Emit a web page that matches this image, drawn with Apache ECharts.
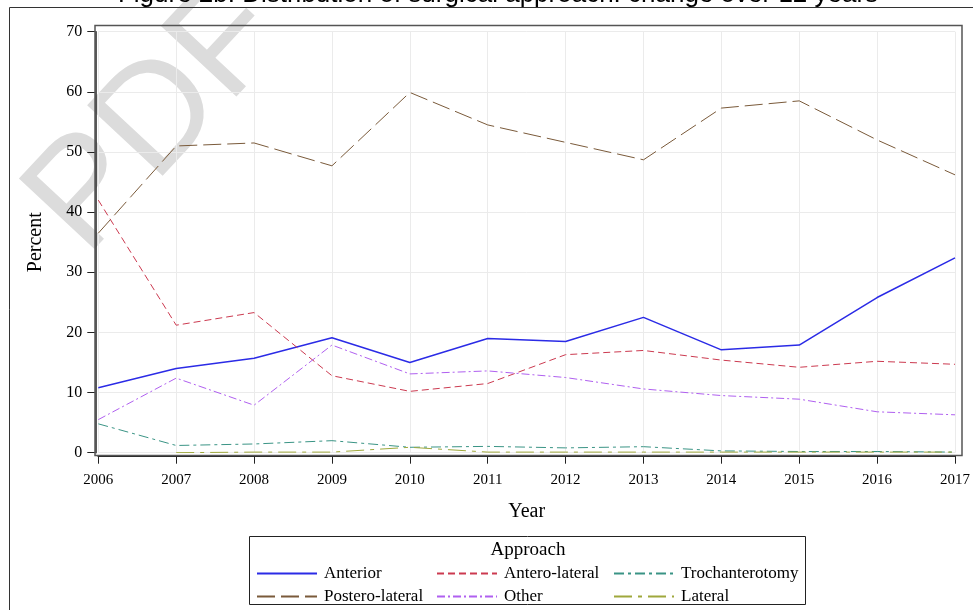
<!DOCTYPE html>
<html>
<head>
<meta charset="utf-8">
<script src="https://cdn.jsdelivr.net/npm/echarts@6/dist/echarts.min.js"></script>
<style>html,body{margin:0;padding:0;background:#fff}#c{width:973px;height:610px}</style>
</head>
<body>
<div id="c"></div>
<script>
const years = [2006, 2007, 2008, 2009, 2010, 2011, 2012, 2013, 2014, 2015, 2016, 2017];
const yTicks = [0, 10, 20, 30, 40, 50, 60, 70];
const anterior       = [10.8, 14.0, 15.7, 19.1, 15.0, 19.0, 18.5, 22.5, 17.1, 17.9, 25.8, 32.4];
const anteroLateral  = [42.0, 21.2, 23.3, 12.8, 10.2, 11.5, 16.3, 17.0, 15.4, 14.2, 15.2, 14.7];
const trochanterotomy= [4.8, 1.2, 1.45, 2.0, 0.9, 1.05, 0.8, 1.0, 0.3, 0.2, 0.2, 0.1];
const posteroLateral = [36.5, 51.0, 51.5, 47.7, 59.9, 54.5, 51.6, 48.7, 57.3, 58.5, 52.0, 46.2];
const other          = [5.5, 12.4, 7.9, 17.9, 13.1, 13.6, 12.5, 10.6, 9.5, 8.9, 6.8, 6.3];
const lateral        = [null, 0.0, 0.1, 0.1, 0.9, 0.1, 0.1, 0.1, 0.1, 0.1, 0.1, 0.1];

const seriesDefs = [
  {name: 'Anterior', data: anterior, color: '#2B2BE6', type: 'solid', width: 1.5},
  {name: 'Antero-lateral', data: anteroLateral, color: '#CC3A50', type: [7, 4], width: 1},
  {name: 'Trochanterotomy', data: trochanterotomy, color: '#3A9485', type: [10, 4, 3, 4], width: 1},
  {name: 'Postero-lateral', data: posteroLateral, color: '#7A5A3A', type: [18, 6], width: 1},
  {name: 'Other', data: other, color: '#B060F0', type: [8, 3, 2, 3], width: 1},
  {name: 'Lateral', data: lateral, color: '#9FA83C', type: [18, 6, 4, 6], width: 1}
];

const serif = '"Liberation Serif", "Times New Roman", serif';
const chart = echarts.init(document.getElementById('c'), null, {renderer: 'canvas'});

const series = seriesDefs.map(d => ({
  name: d.name,
  type: 'line',
  data: years.map((y, i) => [y, d.data[i]]),
  showSymbol: false,
  symbol: 'none',
  connectNulls: false,
  color: d.color,
  lineStyle: {color: d.color, type: d.type, width: d.width},
  emphasis: {disabled: true},
  animation: false
}));

function legendCol(left, names) {
  return {
    orient: 'vertical', left: left, top: 565, padding: 0,
    itemWidth: 60, itemHeight: 14, itemGap: 6,
    data: names,
    itemStyle: {color: 'rgba(0,0,0,0)', borderColor: 'rgba(0,0,0,0)', borderWidth: 0},
    textStyle: {fontFamily: serif, fontSize: 17, color: '#000', padding: [0, 0, 0, 2]},
    selectedMode: false
  };
}

chart.setOption({
  animation: false,
  backgroundColor: '#fff',
  grid: {left: 98.3, right: 17.5, top: 31.7, bottom: 157.3},
  xAxis: {
    type: 'value', min: 2006, max: 2017, interval: 1,
    name: 'Year', nameLocation: 'middle', nameGap: 46,
    nameTextStyle: {fontFamily: serif, fontSize: 20, color: '#000'},
    offset: 3,
    axisLine: {show: true, onZero: false, lineStyle: {color: '#222', width: 2}},
    axisTick: {show: true, length: 8, lineStyle: {color: '#222', width: 1}},
    axisLabel: {fontFamily: serif, fontSize: 15, color: '#000', margin: 17, formatter: v => String(v)},
    splitLine: {show: true, lineStyle: {color: '#EBEBEB', width: 1}}
  },
  yAxis: {
    type: 'value', min: 0, max: 70, interval: 10,
    name: 'Percent', nameLocation: 'middle', nameGap: 50,
    nameTextStyle: {fontFamily: serif, fontSize: 20, color: '#000'},
    offset: 3,
    axisLine: {show: true, lineStyle: {color: '#222', width: 1.5}},
    axisTick: {show: true, length: 8, lineStyle: {color: '#222', width: 1}},
    axisLabel: {fontFamily: serif, fontSize: 16, color: '#000', margin: 13},
    splitLine: {show: true, lineStyle: {color: '#EBEBEB', width: 1}}
  },
  legend: [
    legendCol(256, ['Anterior', 'Postero-lateral']),
    legendCol(436, ['Antero-lateral', 'Other']),
    legendCol(613, ['Trochanterotomy', 'Lateral'])
  ],
  graphic: [
    {type: 'text', z: -10, x: 158, y: 120, rotation: 0.82,
     style: {text: 'PDF', font: '150px "Liberation Sans", Arial, sans-serif', fill: '#DCDCDC', align: 'center', verticalAlign: 'middle'}},
    {type: 'rect', z: 1, shape: {x: 9.5, y: 7.5, width: 1000, height: 700}, style: {fill: 'none', stroke: '#333', lineWidth: 1}},
    {type: 'rect', z: 1, shape: {x: 95, y: 25.5, width: 867, height: 430}, style: {fill: 'none', stroke: '#555', lineWidth: 1.5}},
    {type: 'text', x: 498, y: 8,
     style: {text: 'Figure 2b. Distribution of surgical approach: change over 12 years', font: '26px "Liberation Sans", Arial, sans-serif', fill: '#000', align: 'center', verticalAlign: 'bottom'}},
    {type: 'rect', shape: {x: 249.5, y: 536.5, width: 556, height: 68}, style: {fill: 'none', stroke: '#222', lineWidth: 1}},
    {type: 'text', x: 528, y: 550,
     style: {text: 'Approach', font: '19px "Liberation Serif", "Times New Roman", serif', fill: '#000', align: 'center', verticalAlign: 'middle'}}
  ],
  series: series
});
</script>
</body>
</html>
